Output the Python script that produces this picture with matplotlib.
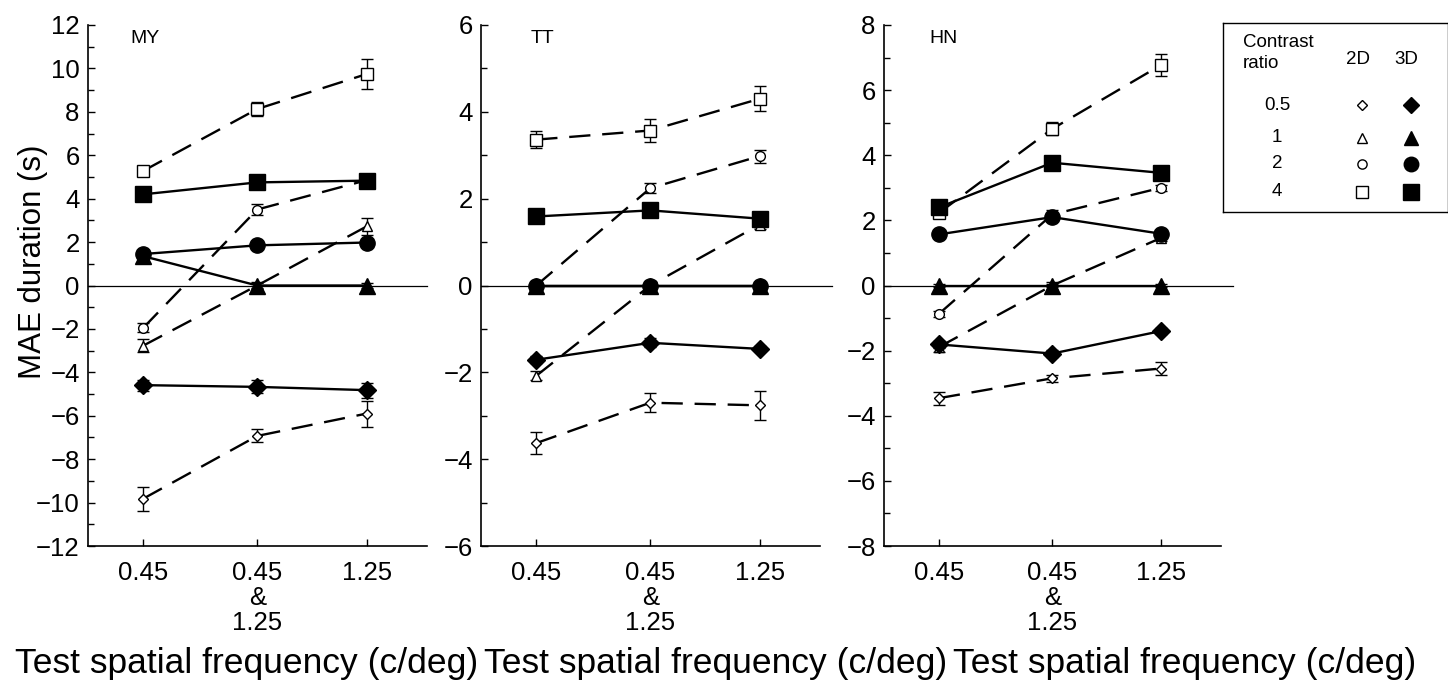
import numpy as np
import matplotlib
matplotlib.use("Agg")
import matplotlib.pyplot as plt
from matplotlib.ticker import MultipleLocator

plt.rcParams['font.family'] = ['Liberation Sans', 'DejaVu Sans']

# categories / labels
categories = ["0.45", "0.45\n&\n1.25", "1.25"]
subjects = ["MY", "TT", "HN"]
ratios = ["0.5", "1", "2", "4"]

# MAE duration (s), rows = contrast ratio 0.5, 1, 2, 4
my_2d = [[-9.82, -6.93, -5.90], [-2.77, 0.00, 2.72], [-1.95, 3.50, 4.85], [5.28, 8.13, 9.74]]
my_2d_err = [[0.55, 0.30, 0.60], [0.30, 0.15, 0.40], [0.20, 0.25, 0.20], [0.20, 0.30, 0.68]]
my_3d = [[-4.59, -4.67, -4.82], [1.35, 0.00, 0.00], [1.45, 1.85, 1.98], [4.20, 4.75, 4.83]]
my_3d_err = [[0.25, 0.30, 0.35], [0.10, 0.10, 0.10], [0.15, 0.15, 0.15], [0.15, 0.15, 0.15]]

tt_2d = [[-3.63, -2.70, -2.76], [-2.08, 0.00, 1.40], [0.00, 2.24, 2.98], [3.36, 3.57, 4.30]]
tt_2d_err = [[0.26, 0.22, 0.34], [0.10, 0.10, 0.10], [0.10, 0.12, 0.15], [0.20, 0.27, 0.29]]
tt_3d = [[-1.71, -1.32, -1.46], [0.00, 0.00, 0.00], [0.00, 0.00, 0.00], [1.59, 1.73, 1.54]]
tt_3d_err = [[0.08, 0.10, 0.06], [0.05, 0.05, 0.05], [0.05, 0.05, 0.05], [0.08, 0.08, 0.08]]

hn_2d = [[-3.46, -2.85, -2.55], [-1.89, 0.00, 1.46], [-0.87, 2.18, 3.00], [2.23, 4.81, 6.77]]
hn_2d_err = [[0.20, 0.10, 0.20], [0.15, 0.10, 0.10], [0.10, 0.15, 0.10], [0.10, 0.20, 0.33]]
hn_3d = [[-1.81, -2.09, -1.40], [0.00, 0.00, 0.00], [1.57, 2.10, 1.59], [2.40, 3.77, 3.46]]
hn_3d_err = [[0.10, 0.10, 0.08], [0.05, 0.05, 0.05], [0.10, 0.10, 0.10], [0.10, 0.10, 0.10]]

ylims = [12, 6, 8]

# styles
markers = ['D', '^', 'o', 's']
ms_2d = [5.5, 7, 7, 9]
ms_3d = [9, 11, 11, 12]
xpos = np.array([0, 1, 1.96])

fig = plt.figure(figsize=(14.48, 6.8), dpi=100)
W, H = 1448, 680

def px_rect(x0, y0, x1, y1):
    return [x0 / W, 1 - y1 / H, (x1 - x0) / W, (y1 - y0) / H]

rects = [px_rect(88, 25, 427, 546), px_rect(481, 25, 820, 546), px_rect(884, 25, 1221, 546)]
name_x = [0.125, 0.145, 0.135]

data = [(my_2d, my_2d_err, my_3d, my_3d_err),
        (tt_2d, tt_2d_err, tt_3d, tt_3d_err),
        (hn_2d, hn_2d_err, hn_3d, hn_3d_err)]

for i, (d2, e2, d3, e3) in enumerate(data):
    ax = fig.add_axes(rects[i])
    ax.axhline(0, color='black', lw=0.9, xmax=1.0 if i == 0 else 1.035, clip_on=False, zorder=1)
    for k in range(4):
        ax.errorbar(xpos, d2[k], yerr=e2[k], color='black', lw=1.7, dashes=(9, 5),
                    marker=markers[k], ms=ms_2d[k], mfc='white', mec='black', mew=1.0,
                    ecolor='black', elinewidth=1.0, capsize=4, capthick=1.0, zorder=2)
    for k in range(4):
        ax.errorbar(xpos, d3[k], yerr=e3[k], color='black', lw=1.7, ls='-',
                    marker=markers[k], ms=ms_3d[k], mfc='black', mec='black', mew=1.0,
                    ecolor='black', elinewidth=1.0, capsize=4, capthick=1.0, zorder=3)
    lim = ylims[i]
    ax.set_ylim(-lim, lim)
    ax.set_xlim(-0.485, 2.49)
    ax.yaxis.set_major_locator(MultipleLocator(2))
    ax.yaxis.set_minor_locator(MultipleLocator(1))
    ax.set_yticklabels([f"{int(v)}".replace('-', '\u2212') for v in ax.get_yticks()])
    ax.set_xticks(xpos)
    ax.set_xticklabels(categories, linespacing=1.05)
    ax.tick_params(axis='y', which='major', direction='in', length=5, width=1, pad=6, labelsize=18.5)
    ax.tick_params(axis='y', which='minor', direction='in', length=4, width=1)
    ax.tick_params(axis='x', direction='in', length=5, width=1, pad=11, labelsize=18.5)
    for s in ['top', 'right']:
        ax.spines[s].set_visible(False)
    for s in ['left', 'bottom']:
        ax.spines[s].set_linewidth(1.2)
    ax.text(name_x[i], 0.975, subjects[i], transform=ax.transAxes, fontsize=14,
            ha='left', va='center')

fig.text(33 / W, 1 - 262 / H, "MAE duration (s)", rotation=90, fontsize=22.5,
         ha='center', va='center')
for cx in [247, 716, 1185]:
    fig.text(cx / W, 1 - 663 / H, "Test spatial frequency (c/deg)", fontsize=25.5,
             ha='center', va='center')

# legend box in pixel coordinates
lg = fig.add_axes(px_rect(1223, 23, 1448, 212))
lg.set_xlim(1223, 1448)
lg.set_ylim(212, 23)
lg.set_xticks([])
lg.set_yticks([])
for s in lg.spines.values():
    s.set_linewidth(1.0)
lg.text(1243, 53, "Contrast\nratio", fontsize=13.5, ha='left', va='center', linespacing=1.25)
lg.text(1358, 60, "2D", fontsize=13.5, ha='center', va='center')
lg.text(1406, 60, "3D", fontsize=13.5, ha='center', va='center')
row_y = [105, 138, 164, 192]
for k in range(4):
    lg.text(1277, row_y[k], ratios[k], fontsize=13.5, ha='center', va='center')
    lg.plot([1362], [row_y[k]], marker=markers[k], ms=ms_2d[k] * 0.95, mfc='white',
            mec='black', mew=1.0, ls='none')
    lg.plot([1411], [row_y[k]], marker=markers[k], ms=ms_3d[k] * 0.95, mfc='black',
            mec='black', ls='none')

fig.savefig("out.png", dpi=100)
